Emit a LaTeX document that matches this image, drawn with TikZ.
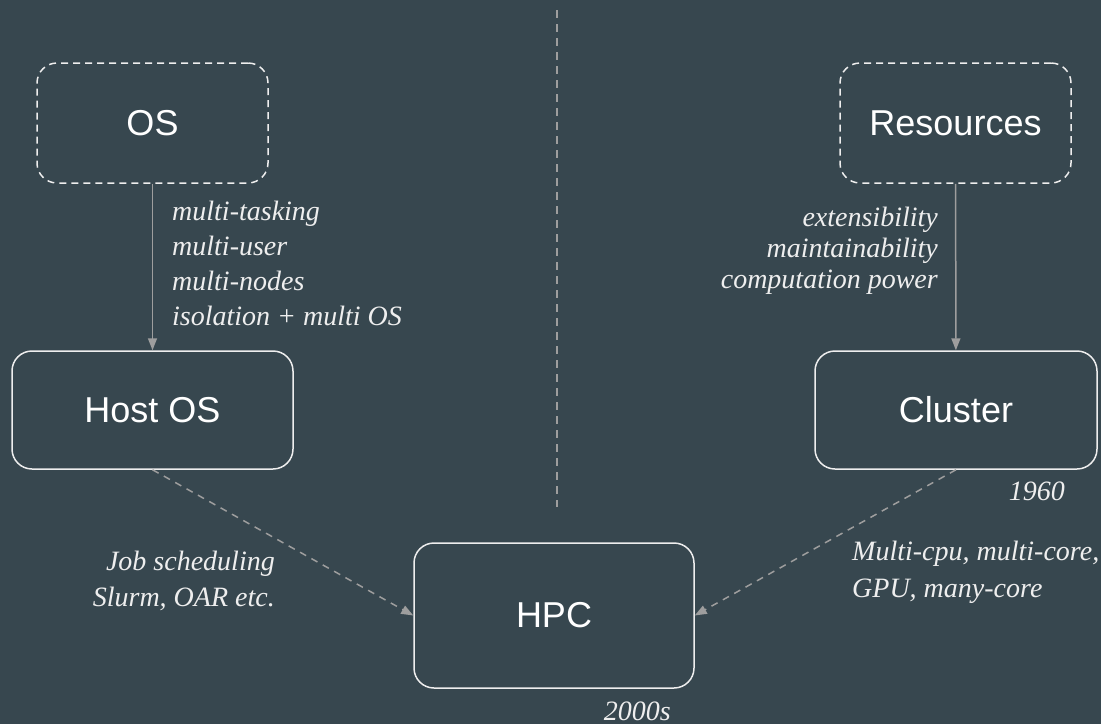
\documentclass[tikz,border=0pt]{standalone}
\usepackage{fontspec}
\setmainfont{Liberation Serif}
\newfontfamily\boxfont{Liberation Sans}
\usetikzlibrary{arrows.meta}
\definecolor{bg}{HTML}{37474F}
\definecolor{edgecol}{HTML}{EEEEEE}
\definecolor{conncol}{HTML}{9E9E9E}
\begin{document}
\begin{tikzpicture}[x=1pt,y=-1pt,
  box/.style={draw=edgecol, line width=1.5pt, rounded corners=20pt, text=white,
    font=\boxfont\fontsize{36}{40}\selectfont, inner sep=0pt},
  dbox/.style={box, dash pattern=on 7pt off 5pt},
  lbl/.style={text=edgecol, font=\itshape\fontsize{28}{35}\selectfont, inner sep=0pt},
  connector/.style={draw=conncol, line width=1.5pt, -{Triangle[length=12pt,width=9pt]}},
  dconnector/.style={connector, dash pattern=on 7pt off 6pt},
  divider/.style={draw=conncol, line width=1.5pt, dash pattern=on 8pt off 6pt}]
\fill[bg] (0,0) rectangle (1101,724);
\useasboundingbox (0,0) rectangle (1101,724);

\node[dbox, minimum width=231pt, minimum height=120pt] (os) at (152.5,123) {OS};
\node[dbox, minimum width=231pt, minimum height=120pt] (res) at (955.5,123) {Resources};
\node[box, minimum width=281pt, minimum height=118pt] (host) at (152.5,410) {Host OS};
\node[box, minimum width=282pt, minimum height=118pt] (cluster) at (956,410) {Cluster};
\node[box, minimum width=280pt, minimum height=145pt] (hpc) at (554,615.5) {HPC};

\coordinate (divtop) at (557,10);
\coordinate (divbot) at (557,507);
\draw[divider] (divtop) -- (divbot);

\draw[connector] (os) -- (host);
\draw[connector] (res) -- (cluster);
\draw[dconnector] (host.south) -- (hpc.west);
\draw[dconnector] (cluster.south) -- (hpc.east);

\node[lbl, anchor=base west, align=left] (osl) at (172,325)
  {multi-tasking\\multi-user\\multi-nodes\\isolation + multi OS};
\node[lbl, anchor=base east, align=right, font=\itshape\fontsize{28}{31}\selectfont] (resl) at (938,288)
  {extensibility\\maintainability\\computation power};
\node[lbl, anchor=base east, align=right, font=\itshape\fontsize{28}{36}\selectfont] (jobl) at (275,606)
  {Job scheduling\\Slurm, OAR etc.};
\node[lbl, anchor=base west, align=left, font=\itshape\fontsize{28}{37}\selectfont] (cpul) at (852,597)
  {Multi-cpu, multi-core,\\GPU, many-core};
\node[lbl, anchor=base east] (y1960) at (1065,500) {1960};
\node[lbl, anchor=base east] (y2000) at (671,720) {2000s};
\end{tikzpicture}
\end{document}
